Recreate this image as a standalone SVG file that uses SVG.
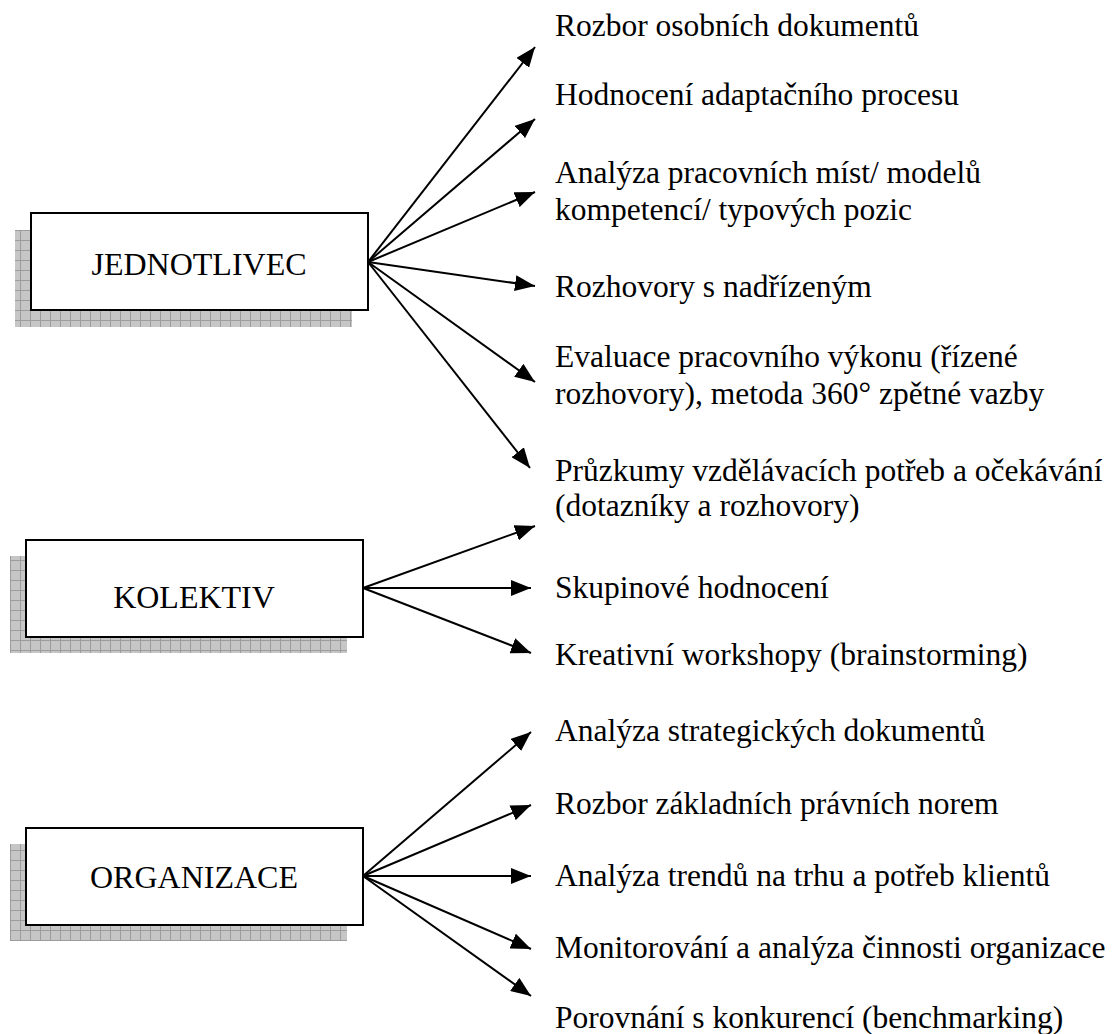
<svg xmlns="http://www.w3.org/2000/svg" width="1117" height="1034" viewBox="0 0 1117 1034">
  <defs>
    <!-- gridded drop shadow fill -->
    <pattern id="grid" width="10" height="10" patternUnits="userSpaceOnUse">
      <rect width="10" height="10" fill="#c6c6c6"/>
      <path d="M0,0.5 H10 M0.5,0 V10" stroke="#9c9c9c" stroke-width="1"/>
    </pattern>
    <marker id="arrow" viewBox="0 0 20 16" refX="20" refY="8" markerWidth="20" markerHeight="16" markerUnits="userSpaceOnUse" orient="auto">
      <path d="M0,0 L20,8 L0,16 z" fill="#000"/>
    </marker>
  </defs>
  <style>
    .shadow { fill: url(#grid); }
    .box { fill: #fff; stroke: #000; stroke-width: 2; }
    .label { font-family: "Liberation Serif", "Times New Roman", serif; font-size: 31.5px; fill: #000; }
    .boxlabel { font-family: "Liberation Serif", "Times New Roman", serif; font-size: 32px; fill: #000; text-anchor: middle; }
    .conn { stroke: #000; stroke-width: 2; fill: none; marker-end: url(#arrow); }
  </style>
  <rect width="1117" height="1034" fill="#fff"/>

  <!-- source nodes -->
  <g id="jednotlivec">
    <rect class="shadow" x="15" y="230" width="337" height="97"/>
    <rect class="box" x="31" y="213" width="337" height="97"/>
    <text class="boxlabel" x="199" y="275">JEDNOTLIVEC</text>
  </g>
  <g id="kolektiv">
    <rect class="shadow" x="10" y="556" width="337" height="97"/>
    <rect class="box" x="26" y="540" width="337" height="97"/>
    <text class="boxlabel" x="194" y="608">KOLEKTIV</text>
  </g>
  <g id="organizace">
    <rect class="shadow" x="10" y="844" width="337" height="97"/>
    <rect class="box" x="26" y="828" width="337" height="97"/>
    <text class="boxlabel" x="194" y="888">ORGANIZACE</text>
  </g>

  <!-- connectors -->
  <g id="connectors">
    <line class="conn" x1="368" y1="262" x2="535" y2="47"/>
    <line class="conn" x1="368" y1="262" x2="535" y2="119"/>
    <line class="conn" x1="368" y1="262" x2="535" y2="192"/>
    <line class="conn" x1="368" y1="262" x2="535" y2="286"/>
    <line class="conn" x1="368" y1="262" x2="535" y2="382"/>
    <line class="conn" x1="368" y1="262" x2="530" y2="468"/>
    <line class="conn" x1="363" y1="588" x2="535" y2="526"/>
    <line class="conn" x1="363" y1="588" x2="531" y2="588"/>
    <line class="conn" x1="363" y1="588" x2="531" y2="653"/>
    <line class="conn" x1="363" y1="876" x2="531" y2="732"/>
    <line class="conn" x1="363" y1="876" x2="531" y2="805"/>
    <line class="conn" x1="363" y1="876" x2="531" y2="876"/>
    <line class="conn" x1="363" y1="876" x2="531" y2="949"/>
    <line class="conn" x1="363" y1="876" x2="531" y2="996"/>
  </g>

  <!-- target items -->
  <g id="items">
    <text class="label" x="555" y="36">Rozbor osobních dokumentů</text>
    <text class="label" x="555" y="105">Hodnocení adaptačního procesu</text>
    <text class="label" x="555" y="183">Analýza pracovních míst/ modelů<tspan x="555" dy="37">kompetencí/ typových pozic</tspan></text>
    <text class="label" x="555" y="297">Rozhovory s nadřízeným</text>
    <text class="label" x="555" y="367">Evaluace pracovního výkonu (řízené<tspan x="555" dy="37">rozhovory), metoda 360° zpětné vazby</tspan></text>
    <text class="label" x="555" y="481">Průzkumy vzdělávacích potřeb a očekávání<tspan x="555" dy="35">(dotazníky a rozhovory)</tspan></text>
    <text class="label" x="555" y="598">Skupinové hodnocení</text>
    <text class="label" x="555" y="665">Kreativní workshopy (brainstorming)</text>
    <text class="label" x="555" y="741">Analýza strategických dokumentů</text>
    <text class="label" x="555" y="814">Rozbor základních právních norem</text>
    <text class="label" x="555" y="886">Analýza trendů na trhu a potřeb klientů</text>
    <text class="label" x="555" y="958">Monitorování a analýza činnosti organizace</text>
    <text class="label" x="555" y="1028">Porovnání s konkurencí (benchmarking)</text>
  </g>
</svg>
